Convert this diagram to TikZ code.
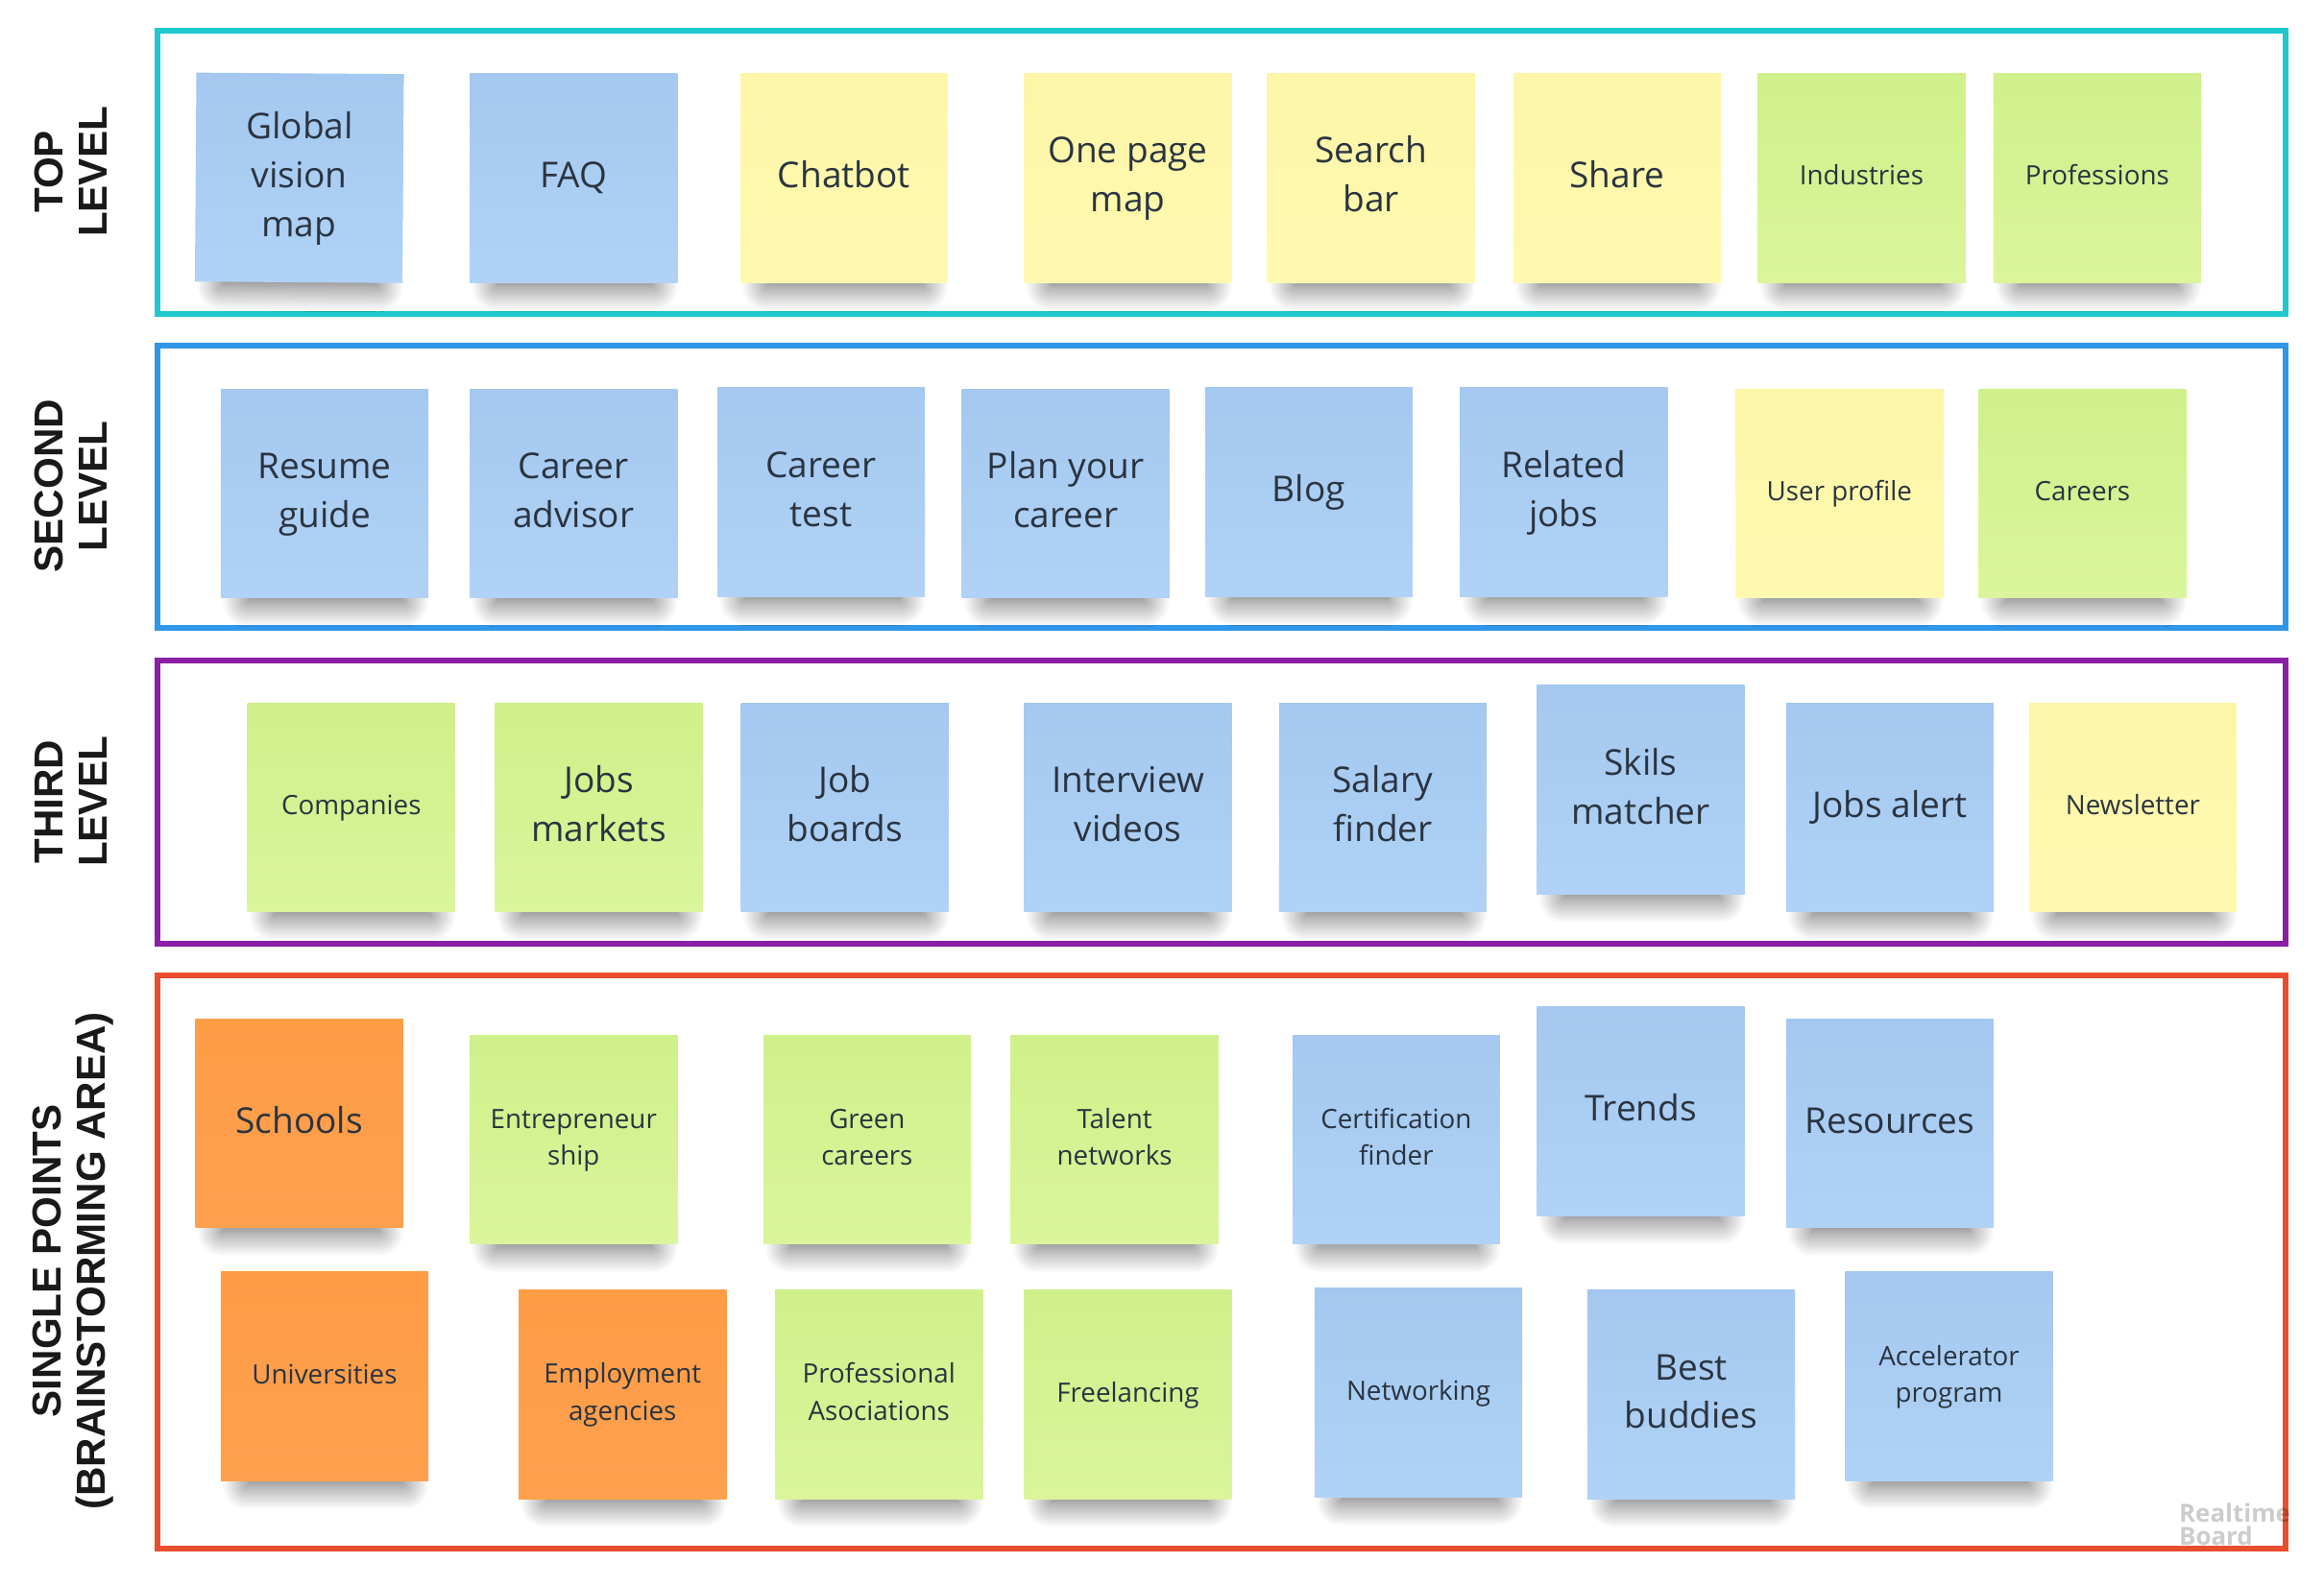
\documentclass[tikz,border=0pt]{standalone}
\usepackage{fontspec}
\setmainfont{Open Sans}
\newfontfamily\headfont{Liberation Sans}
\usetikzlibrary{shadows.blur}
\definecolor{inktext}{HTML}{2A3440}
\definecolor{topline}{HTML}{1FC8CF}
\definecolor{secondline}{HTML}{2F96E8}
\definecolor{thirdline}{HTML}{8A1FA6}
\definecolor{singleline}{HTML}{E84E2E}
\definecolor{bluetop}{HTML}{A4C8EF}
\definecolor{bluebot}{HTML}{B0D2F6}
\definecolor{yellowtop}{HTML}{FDF6A8}
\definecolor{yellowbot}{HTML}{FFF9B0}
\definecolor{greentop}{HTML}{CFF08A}
\definecolor{greenbot}{HTML}{DAF59B}
\definecolor{orangetop}{HTML}{FF9C46}
\definecolor{orangebot}{HTML}{FFA04E}
\tikzstyle{note}=[minimum width=140pt,minimum height=141pt,inner sep=0pt,align=center,text=inktext,
    blur shadow={shadow xshift=1pt,shadow yshift=-26pt,shadow scale=.76,shadow blur radius=22pt,shadow blur steps=24,shadow opacity=62}]
\tikzstyle{big}=[font=\fontsize{24}{33}\selectfont]
\tikzstyle{small}=[font=\fontsize{18}{25}\selectfont]
\tikzstyle{bluenote}=[note,top color=bluetop,bottom color=bluebot]
\tikzstyle{yellownote}=[note,top color=yellowtop,bottom color=yellowbot]
\tikzstyle{greennote}=[note,top color=greentop,bottom color=greenbot]
\tikzstyle{orangenote}=[note,top color=orangetop,bottom color=orangebot]
\tikzstyle{frame}=[line width=3.8pt]
\tikzstyle{head}=[rotate=90,align=center,text=black!90,font=\headfont\bfseries\fontsize{27.3}{30}\selectfont]
\begin{document}
\begin{tikzpicture}[x=1pt,y=-1pt]
    \useasboundingbox (0,0) rectangle (1568,1070.4);
    \draw[frame,topline] (106,20.5) rectangle (1542,212);
    \draw[frame,secondline] (106,233) rectangle (1542,424);
    \draw[frame,thirdline] (106,446) rectangle (1542,637);
    \draw[frame,singleline] (106,658.5) rectangle (1542,1045);
    \node[head] (toplabel) at (48,116) {TOP\\LEVEL};
    \node[head] (secondlabel) at (48,328) {SECOND\\LEVEL};
    \node[head] (thirdlabel) at (48,541) {THIRD\\LEVEL};
    \node[head] (singlelabel) at (49.5,851) {SINGLE POINTS\\(BRAINSTORMING AREA)};
    \node[bluenote,big,rotate=-.4] (globalmap) at (202,120) {\strut Global\\vision\\map\strut};
    \node[bluenote,big] (faq) at (387,120) {\strut FAQ};
    \node[yellownote,big] (chatbot) at (569.5,120) {\strut Chatbot};
    \node[yellownote,big] (onepage) at (761,120) {\strut One page\\map\strut};
    \node[yellownote,big] (searchbar) at (925,120) {\strut Search\\bar\strut};
    \node[yellownote,big] (share) at (1091,120) {\strut Share};
    \node[greennote,small] (industries) at (1256,120) {\strut Industries};
    \node[greennote,small] (professions) at (1415,120) {\strut Professions};
    \node[bluenote,big] (resume) at (219,333) {\strut Resume\\guide\strut};
    \node[bluenote,big] (advisor) at (387,333) {\strut Career\\advisor\strut};
    \node[bluenote,big] (careertest) at (554,332) {\strut Career\\test\strut};
    \node[bluenote,big] (plancareer) at (719,333) {\strut Plan your\\career\strut};
    \node[bluenote,big] (blog) at (883,332) {\strut Blog};
    \node[bluenote,big] (relatedjobs) at (1055,332) {\strut Related\\jobs\strut};
    \node[yellownote,small] (userprofile) at (1241,333) {\strut User profile};
    \node[greennote,small] (careers) at (1405,333) {\strut Careers};
    \node[greennote,small] (companies) at (237,545) {\strut Companies};
    \node[greennote,big] (jobsmarkets) at (404,545) {\strut Jobs\\markets\strut};
    \node[bluenote,big] (jobboards) at (570,545) {\strut Job\\boards\strut};
    \node[bluenote,big] (interview) at (761,545) {\strut Interview\\videos\strut};
    \node[bluenote,big] (salary) at (933,545) {\strut Salary\\finder\strut};
    \node[bluenote,big] (skils) at (1107,533) {\strut Skils\\matcher\strut};
    \node[bluenote,big] (jobsalert) at (1275,545) {\strut Jobs alert};
    \node[yellownote,small] (newsletter) at (1439,545) {\strut Newsletter};
    \node[orangenote,big] (schools) at (202,758) {\strut Schools};
    \node[greennote,small] (entrepreneur) at (387,769) {\strut Entrepreneur\\ship\strut};
    \node[greennote,small] (greencareers) at (585,769) {\strut Green\\careers\strut};
    \node[greennote,small] (talent) at (752,769) {\strut Talent\\networks\strut};
    \node[bluenote,small] (certification) at (942,769) {\strut Certification\\finder\strut};
    \node[bluenote,big] (trends) at (1107,750) {\strut Trends};
    \node[bluenote,big] (resources) at (1275,758) {\strut Resources};
    \node[orangenote,small] (universities) at (219,929) {\strut Universities};
    \node[orangenote,small] (employment) at (420,941) {\strut Employment\\agencies\strut};
    \node[greennote,small] (professional) at (593,941) {\strut Professional\\Asociations\strut};
    \node[greennote,small] (freelancing) at (761,941) {\strut Freelancing};
    \node[bluenote,small] (networking) at (957,940) {\strut Networking};
    \node[bluenote,big] (buddies) at (1141,941) {\strut Best\\buddies\strut};
    \node[bluenote,small] (accelerator) at (1315,929) {\strut Accelerator\\program\strut};
    \node[anchor=north west,inner sep=0pt,align=left,text=black,opacity=.2,font=\bfseries\fontsize{16.8}{16}\selectfont] (watermark) at (1470,1014) {Realtime\\Board};
\end{tikzpicture}
\end{document}
